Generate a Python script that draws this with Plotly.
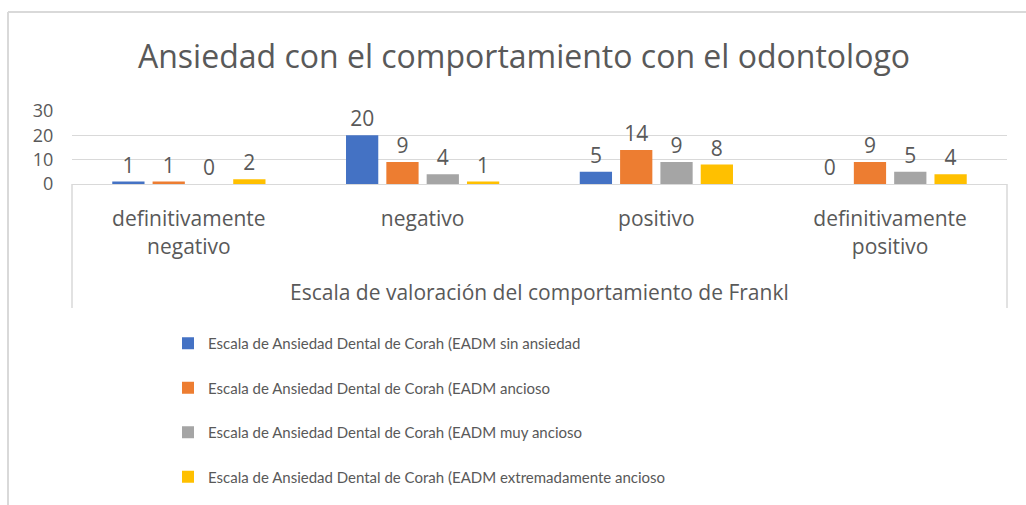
import plotly.graph_objects as go

categories = ["definitivamente<br>negativo", "negativo", "positivo", "definitivamente<br>positivo"]
series_names = [
    "Escala de Ansiedad Dental de Corah (EADM sin ansiedad",
    "Escala de Ansiedad Dental de Corah (EADM ancioso",
    "Escala de Ansiedad Dental de Corah (EADM muy ancioso",
    "Escala de Ansiedad Dental de Corah (EADM extremadamente ancioso",
]
sin_ansiedad = [1, 20, 5, 0]
ancioso = [1, 9, 14, 9]
muy_ancioso = [0, 4, 9, 5]
extremadamente = [2, 1, 8, 4]
colors = ["#4472C4", "#ED7D31", "#A5A5A5", "#FFC000"]
y_ticks = [0, 10, 20, 30]

TXT = "#595959"
GRID = "#D9D9D9"
AXFONT = "Open Sans, Segoe UI, sans-serif"
LEGFONT = "Liberation Sans Narrow, Lato, sans-serif"

fig = go.Figure()
for i, (name, vals) in enumerate(zip(series_names, [sin_ansiedad, ancioso, muy_ancioso, extremadamente])):
    fig.add_trace(go.Bar(
        x=categories, y=vals, name=name,
        marker=dict(color=colors[i], line=dict(width=0)),
        text=[str(v) for v in vals], textposition="outside",
        textfont=dict(size=21, color=TXT, family=AXFONT),
        cliponaxis=False, legendgroup=f"g{i}",
    ))

W, H = 1026, 505
L, R, T, B = 72, 19, 111, 321
ph = H - T - B
pw = W - L - R

def py(px):  # pixel y (from top) -> paper y
    return (H - B - px) / ph

def pxx(px):  # pixel x -> paper x
    return (px - L) / pw

fig.update_layout(
    width=W, height=H,
    margin=dict(l=L, r=R, t=T, b=B, autoexpand=False),
    paper_bgcolor="white", plot_bgcolor="white",
    barmode="group", bargap=0.31, bargroupgap=0.2,
    title=dict(text="Ansiedad con el comportamiento con el odontologo",
               x=524 / W, xanchor="center", xref="container",
               y=1 - 57 / H, yanchor="middle", yref="container",
               font=dict(size=32, color=TXT, family=AXFONT)),
    showlegend=True,
    legend=dict(orientation="v", x=pxx(168), xanchor="left", y=py(327), yanchor="top",
                font=dict(size=15, color=TXT, family=LEGFONT),
                tracegroupgap=22, bgcolor="rgba(0,0,0,0)", itemclick=False),
    xaxis=dict(showline=True, linecolor=GRID, linewidth=1, showgrid=False,
               ticks="outside", ticklen=16, tickcolor="rgba(0,0,0,0)",
               tickfont=dict(size=21, color=TXT, family=AXFONT), fixedrange=True),
    yaxis=dict(range=[0, 30], tickvals=y_ticks, showgrid=True, gridcolor=GRID, gridwidth=1,
               zeroline=False, showline=False,
               ticks="outside", ticklen=14, tickcolor="rgba(0,0,0,0)",
               tickfont=dict(size=18, color=TXT, family=AXFONT), fixedrange=True),
    font=dict(family=AXFONT, color=TXT),
)

# axis title
fig.add_annotation(text="Escala de valoración del comportamiento de Frankl",
                   xref="paper", yref="paper", x=0.5, y=py(292), xanchor="center", yanchor="middle",
                   showarrow=False, font=dict(size=21, color=TXT, family=AXFONT))

# category box verticals
for xv in [0, 1]:
    fig.add_shape(type="line", xref="paper", yref="paper", x0=xv, x1=xv, y0=0, y1=py(308),
                  line=dict(color=GRID, width=1.5))
# outer chart border
fig.add_shape(type="line", xref="paper", yref="paper", x0=pxx(8), x1=pxx(1030), y0=py(12), y1=py(12),
              line=dict(color=GRID, width=2))
fig.add_shape(type="line", xref="paper", yref="paper", x0=pxx(8), x1=pxx(8), y0=py(12), y1=py(510),
              line=dict(color=GRID, width=2))

fig.write_html("out.html", config={"displayModeBar": False},
               post_script="document.body.style.margin='0';")
